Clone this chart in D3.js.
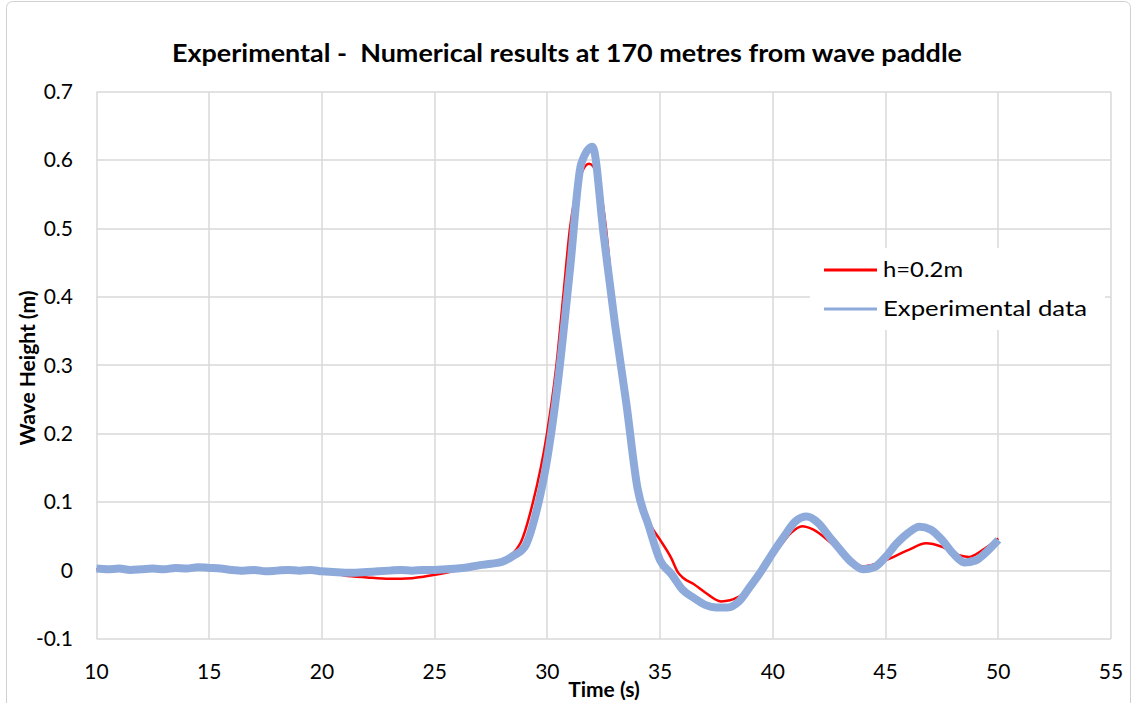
<!DOCTYPE html>
<html>
<head>
<meta charset="utf-8">
<script src="https://cdn.jsdelivr.net/npm/d3@7"></script>
<style>
  body { margin: 0; background: #fff; }
  svg { font-family: Lato, "Open Sans", sans-serif; }
</style>
</head>
<body>
<svg width="1134" height="703"></svg>
<script>
// experimental record, every 0.5 s from 10 to 50 s
var expTime = d3.range(10, 50.01, 0.5);
var expHeight = [
  0.003, 0.002, 0.003, 0.001, 0.002, 0.003, 0.002, 0.004, 0.003, 0.005,
  0.004, 0.003, 0.001, 0.000, 0.001, -0.001, 0.000, 0.001, 0.000, 0.001,
  -0.001, -0.002, -0.003, -0.003, -0.002, -0.001, 0.000, 0.001, 0.000, 0.001,
  0.001, 0.002, 0.003, 0.005, 0.008, 0.010, 0.013, 0.022, 0.035, 0.085,
  0.165, 0.285, 0.440, 0.595, 0.620, 0.490, 0.360, 0.245, 0.120, 0.065,
  0.015, -0.005, -0.028, -0.040, -0.050, -0.054, -0.054, -0.045, -0.023, 0.000,
  0.026, 0.050, 0.072, 0.079, 0.070, 0.050, 0.030, 0.012, 0.002, 0.005,
  0.020, 0.040, 0.055, 0.064, 0.060, 0.045, 0.025, 0.012, 0.015, 0.028,
  0.045
];

// numerical model h=0.2m
var numTime = [10, 12, 14, 16, 18, 20, 20.5, 21, 22, 23, 24, 25, 26, 27, 28, 28.8,
  29.36, 29.98, 30.4, 30.7, 31.0, 31.4, 31.85, 32.2, 32.6, 32.9, 33.2, 33.7, 34.15,
  34.6, 35, 35.5, 35.8, 36, 36.5, 37, 37.7, 38.5, 39, 39.5, 40.2, 40.8, 41.3, 41.8,
  42.6, 43.3, 44, 45, 46, 46.8, 47.5, 48.3, 48.7, 49.3, 50];
var numHeight = [0.002, 0.002, 0.003, 0.001, 0.0, -0.001, -0.004, -0.007, -0.010, -0.012, -0.011, -0.006, 0.000, 0.005, 0.015, 0.040,
  0.100, 0.200, 0.300, 0.400, 0.500, 0.570, 0.595, 0.580, 0.500, 0.400, 0.300, 0.200, 0.100,
  0.065, 0.045, 0.018, -0.003, -0.010, -0.020, -0.032, -0.045, -0.038, -0.025, -0.002, 0.030, 0.055, 0.065, 0.060,
  0.040, 0.020, 0.006, 0.015, 0.030, 0.040, 0.035, 0.022, 0.020, 0.030, 0.047];

var xTicks = [10, 15, 20, 25, 30, 35, 40, 45, 50, 55];
var yTicks = [-0.1, 0, 0.1, 0.2, 0.3, 0.4, 0.5, 0.6, 0.7];

var svg = d3.select("svg");
var plotLeft = 96.5, plotRight = 1111, plotTop = 92, plotBottom = 639;

// chart frame
svg.append("rect")
  .attr("x", 6.5).attr("y", 1.5)
  .attr("width", 1124).attr("height", 720)
  .attr("rx", 6)
  .attr("fill", "#fff")
  .attr("stroke", "#d0d0d0");

var x = d3.scaleLinear().domain([10, 55]).range([plotLeft, plotRight]);
var y = d3.scaleLinear().domain([-0.1, 0.7]).range([plotBottom, plotTop]);

// grid
svg.append("g")
  .selectAll("line")
  .data(xTicks)
  .enter().append("line")
  .attr("x1", function(d) { return Math.round(x(d)); })
  .attr("x2", function(d) { return Math.round(x(d)); })
  .attr("y1", plotTop).attr("y2", plotBottom)
  .attr("stroke", "#d9d9d9").attr("stroke-width", 1.5);

svg.append("g")
  .selectAll("line")
  .data(yTicks)
  .enter().append("line")
  .attr("y1", function(d) { return Math.round(y(d)); })
  .attr("y2", function(d) { return Math.round(y(d)); })
  .attr("x1", plotLeft).attr("x2", plotRight)
  .attr("stroke", "#d9d9d9").attr("stroke-width", 1.5);

// axis labels
svg.append("g")
  .selectAll("text")
  .data(yTicks)
  .enter().append("text")
  .attr("x", 73)
  .attr("y", function(d) { return y(d) + 7; })
  .attr("text-anchor", "end")
  .attr("font-size", 21)
  .attr("fill", "#000")
  .text(function(d) { return +d.toFixed(1); });

svg.append("g")
  .selectAll("text")
  .data(xTicks)
  .enter().append("text")
  .attr("x", function(d) { return x(d); })
  .attr("y", 679)
  .attr("text-anchor", "middle")
  .attr("font-size", 21)
  .attr("fill", "#000")
  .text(function(d) { return d; });

// legend background
svg.append("rect")
  .attr("x", 810).attr("y", 248)
  .attr("width", 295).attr("height", 82)
  .attr("fill", "#fff");

// series
var numData = numTime.map(function(t, i) { return [t, numHeight[i]]; });
var expData = expTime.map(function(t, i) { return [t, expHeight[i]]; });

var line = d3.line()
  .x(function(d) { return x(d[0]); })
  .y(function(d) { return y(d[1]); })
  .curve(d3.curveMonotoneX);

svg.append("path")
  .datum(numData)
  .attr("d", line)
  .attr("fill", "none")
  .attr("stroke", "#ff0000")
  .attr("stroke-width", 2.5);

svg.append("path")
  .datum(expData)
  .attr("d", line)
  .attr("fill", "none")
  .attr("stroke", "#8eaadb")
  .attr("stroke-width", 8)
  .attr("stroke-linejoin", "round");

// legend
var legend = [
  { name: "h=0.2m", color: "#ff0000", yy: 270, w: 80 },
  { name: "Experimental data", color: "#8eaadb", yy: 309, w: 204 }
];
var lg = svg.append("g").selectAll("g").data(legend).enter().append("g");
lg.append("line")
  .attr("x1", 824).attr("x2", 877)
  .attr("y1", function(d) { return d.yy; })
  .attr("y2", function(d) { return d.yy; })
  .attr("stroke", function(d) { return d.color; })
  .attr("stroke-width", 3);
lg.append("text")
  .attr("x", 883)
  .attr("y", function(d) { return d.yy + 7; })
  .attr("font-size", 21)
  .attr("textLength", function(d) { return d.w; })
  .attr("lengthAdjust", "spacingAndGlyphs")
  .text(function(d) { return d.name; });

// titles
svg.append("text")
  .attr("x", 567).attr("y", 62)
  .attr("text-anchor", "middle")
  .attr("font-size", 24)
  .attr("font-weight", "bold")
  .attr("textLength", 790)
  .attr("lengthAdjust", "spacingAndGlyphs")
  .attr("xml:space", "preserve")
  .text("Experimental -  Numerical results at 170 metres from wave paddle");

svg.append("text")
  .attr("x", 604).attr("y", 697)
  .attr("text-anchor", "middle")
  .attr("font-size", 21)
  .attr("font-weight", "bold")
  .text("Time (s)");

svg.append("text")
  .attr("transform", "translate(35,368) rotate(-90)")
  .attr("text-anchor", "middle")
  .attr("font-size", 21)
  .attr("font-weight", "bold")
  .text("Wave Height (m)");
</script>
</body>
</html>
